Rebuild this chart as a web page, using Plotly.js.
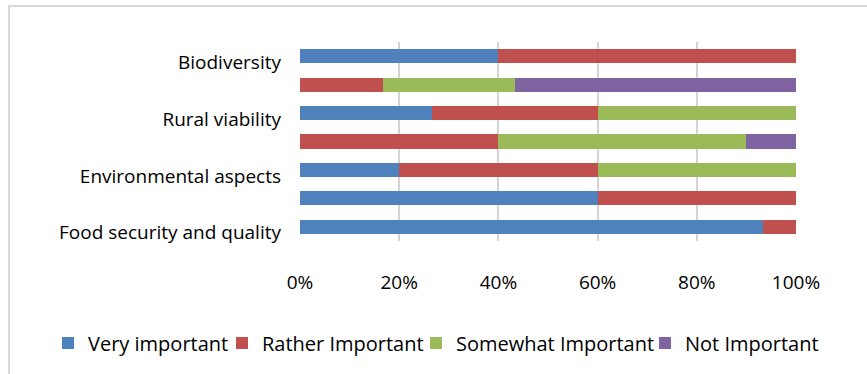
<!DOCTYPE html>
<html>
<head>
<meta charset="utf-8">
<script src="https://cdn.plot.ly/plotly-3.0.1.min.js"></script>
<style>
  html, body { margin: 0; padding: 0; background: #ffffff; }
  #wrap { position: relative; width: 867px; height: 374px; overflow: hidden; }
  #frame { position: absolute; left: 8px; top: 5px; width: 900px; height: 420px; border: 2px solid #d9d9d9; box-sizing: border-box; }
  #chart { position: absolute; left: 0; top: 0; width: 867px; height: 374px; }
</style>
</head>
<body>
<div id="wrap">
  <div id="frame"></div>
  <div id="chart"></div>
</div>
<script>
// Categories, bottom to top (every other label hidden in the original)
const categories = ["Food security and quality", "", "Environmental aspects", "", "Rural viability", "", "Biodiversity"];
const tickLabels = ["0%", "20%", "40%", "60%", "80%", "100%"];
const tickValues = [0, 20, 40, 60, 80, 100];

const veryImportant     = [93.3, 60, 20, 0, 26.7, 0, 40];
const ratherImportant   = [6.7, 40, 40, 40, 33.3, 16.7, 60];
const somewhatImportant = [0, 0, 40, 50, 40, 26.7, 0];
const notImportant      = [0, 0, 0, 10, 0, 56.6, 0];

const seriesNames  = ["Very important", "Rather Important", "Somewhat Important", "Not Important"];
const seriesValues = [veryImportant, ratherImportant, somewhatImportant, notImportant];
const seriesColors = ["#4F81BD", "#C0504D", "#9BBB59", "#8064A2"];

const positions = categories.map((c, i) => i);
const legendIds = ["legend", "legend2", "legend3", "legend4"];
const legendLeft = [48, 222, 416, 645]; // px, container coords

const traces = seriesNames.map((name, k) => ({
  type: "bar",
  orientation: "h",
  name: name,
  x: seriesValues[k],
  y: positions,
  legend: legendIds[k],
  marker: { color: seriesColors[k], line: { width: 0 } },
  hoverinfo: "x+name"
}));

const FONT = "Open Sans, Noto Sans, sans-serif";

const layout = {
  width: 867,
  height: 374,
  barmode: "stack",
  bargap: 0.5,
  paper_bgcolor: "rgba(0,0,0,0)",
  plot_bgcolor: "rgba(0,0,0,0)",
  margin: { l: 300, r: 71, t: 42, b: 133 },
  font: { family: FONT, size: 19, color: "#000000" },
  xaxis: {
    range: [0, 100],
    tickvals: tickValues,
    ticktext: tickLabels,
    showgrid: true,
    gridcolor: "#d4d4d4",
    gridwidth: 2,
    zeroline: false,
    showline: false,
    ticks: "",
    ticklabelstandoff: 28,
    tickfont: { family: FONT, size: 19, color: "#000000" },
    fixedrange: true
  },
  yaxis: {
    range: [-0.5, 6.5],
    tickvals: positions,
    ticktext: categories,
    showgrid: false,
    zeroline: false,
    showline: false,
    ticks: "",
    ticklabelstandoff: 18,
    ticklabelshift: 6,
    tickfont: { family: FONT, size: 19, color: "#000000" },
    fixedrange: true
  },
  showlegend: true
};

legendIds.forEach((id, k) => {
  layout[id] = {
    orientation: "h",
    xref: "container",
    yref: "container",
    x: legendLeft[k] / 867,
    xanchor: "left",
    y: 1 - 343 / 374,
    yanchor: "middle",
    font: { family: FONT, size: 20, color: "#000000" },
    itemwidth: 30,
    bgcolor: "rgba(0,0,0,0)"
  };
});

Plotly.newPlot("chart", traces, layout, { displayModeBar: false, staticPlot: true });
</script>
</body>
</html>
